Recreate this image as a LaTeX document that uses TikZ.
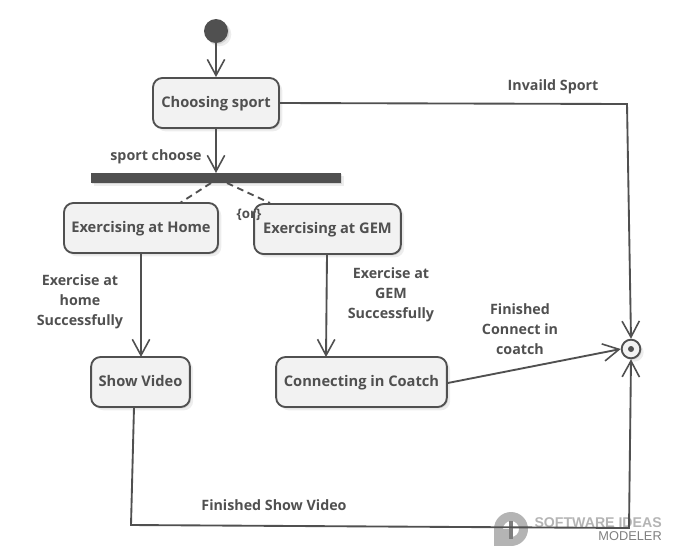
\documentclass[tikz,border=0pt]{standalone}
\usepackage{fontspec}
\setmainfont{Open Sans}
\newfontfamily\logofont{Liberation Sans}
\usepackage{xcolor}
\usetikzlibrary{arrows.meta, shapes, shadows}
\definecolor{umlgray}{HTML}{505050}
\definecolor{boxfill}{HTML}{F2F2F2}
\definecolor{logogray}{HTML}{B4B4B4}
\tikzset{
    softshadow/.style={
        drop shadow={shadow xshift=1pt, shadow yshift=-1pt, opacity=.10, fill=black},
        drop shadow={shadow xshift=2.5pt, shadow yshift=-2.5pt, opacity=.07, fill=black},
    },
    activity/.style={
        draw=umlgray, fill=boxfill, line width=1.4pt, rounded corners=7pt, softshadow,
        text=umlgray, font=\fontsize{11}{12}\selectfont\bfseries,
        inner sep=0pt, minimum height=37.5pt, text height=9.5pt, text depth=2.5pt
    },
    flow/.style={
        draw=umlgray, line width=1.4pt, -{Straight Barb[length=12pt, width=13pt, line width=1.2pt]}
    },
    flowplain/.style={draw=umlgray, line width=1.4pt, dash pattern=on 5pt off 3.5pt},
    guard/.style={
        text=umlgray, font=\fontsize{10.7}{15}\selectfont\bfseries, align=center, inner sep=0pt
    },
}
\begin{document}
\begin{tikzpicture}[x=0.75pt, y=-0.75pt]
    \useasboundingbox (0,0) rectangle (673,558);

    % watermark goes under the lines
    \fill[logogray, even odd rule] (511,529) circle (17) (511,529) circle (8);
    \fill[logogray] (494,529) rectangle (510,546);
    \fill[logogray!70!black] (509,521) rectangle (513,539);
    \node[text=logogray, font=\logofont\fontsize{10.6}{10}\selectfont\bfseries, anchor=east, inner sep=0pt] (logotop) at (662,522.5) {SOFTWARE IDEAS};
    \node[text=gray, font=\logofont\fontsize{9.6}{10}\selectfont, anchor=east, inner sep=0pt] (logobottom) at (662,536) {MODELER};

    % states
    \node[circle, fill=umlgray, inner sep=0pt, minimum size=18pt, softshadow] (start) at (216,31) {};
    \node[activity, minimum width=94.5pt] (choosing) at (216,103) {Choosing sport};
    \node[fill=umlgray, inner sep=0pt, minimum width=187.5pt, minimum height=7.5pt, softshadow] (forkbar) at (216,178) {};
    \node[activity, minimum width=115.5pt] (home) at (141,228) {Exercising at Home};
    \node[activity, minimum width=110pt] (gem) at (327.5,229) {Exercising at GEM};
    \node[activity, minimum width=74pt] (video) at (140.5,382) {Show Video};
    \node[activity, minimum width=128pt] (coach) at (361.5,382) {Connecting in Coatch};
    \node[circle, draw=umlgray, fill=boxfill, line width=1.4pt, inner sep=0pt, minimum size=14pt, softshadow] (final) at (631,349) {};
    \node[circle, fill=umlgray, inner sep=0pt, minimum size=4.5pt] (finaldot) at (final) {};

    % bends and free ends
    \coordinate (topbend) at (627,104);
    \coordinate (videoout) at (134,407);
    \coordinate (lowleft) at (131,525);
    \coordinate (lowright) at (629,528);
    \coordinate (dashleft) at (211,183);
    \coordinate (dashleftend) at (180,203);
    \coordinate (dashright) at (227,183);
    \coordinate (dashrightend) at (270,203);
    \coordinate (homeout) at (141,253);
    \coordinate (videoin) at (141,357);
    \coordinate (gemout) at (327,254);
    \coordinate (coachin) at (326,357);

    % flows
    \draw[flow] (start) -- (choosing);
    \draw[flow] (choosing) -- (216,173);
    \draw[flow] (choosing.east) -- (topbend) -- (final.north);
    \draw[flow] (homeout) -- (videoin);
    \draw[flow] (gemout) -- (coachin);
    \draw[flow] (coach.east |- 0,383) -- (final.west);
    \draw[flow] (videoout) -- (lowleft) -- (lowright) -- (final.south);
    \draw[flowplain] (dashleft) -- (dashleftend);
    \draw[flowplain] (dashright) -- (dashrightend);

    % labels
    \node[guard] (lblinvalid) at (553,87) {Invaild Sport};
    \node[guard] (lblchoose) at (156,157) {sport choose};
    \node[guard, font=\fontsize{10}{12}\selectfont\bfseries] (lblor) at (249,215) {\{or\}};
    \node[guard] (lblhome) at (80,302) {Exercise at\\home\\Successfully};
    \node[guard] (lblgem) at (391,295) {Exercise at\\GEM\\Successfully};
    \node[guard] (lblconnect) at (520,329) {Finished\\Connect in\\coatch};
    \node[guard] (lblvideo) at (274,505) {Finished Show Video};
\end{tikzpicture}
\end{document}
